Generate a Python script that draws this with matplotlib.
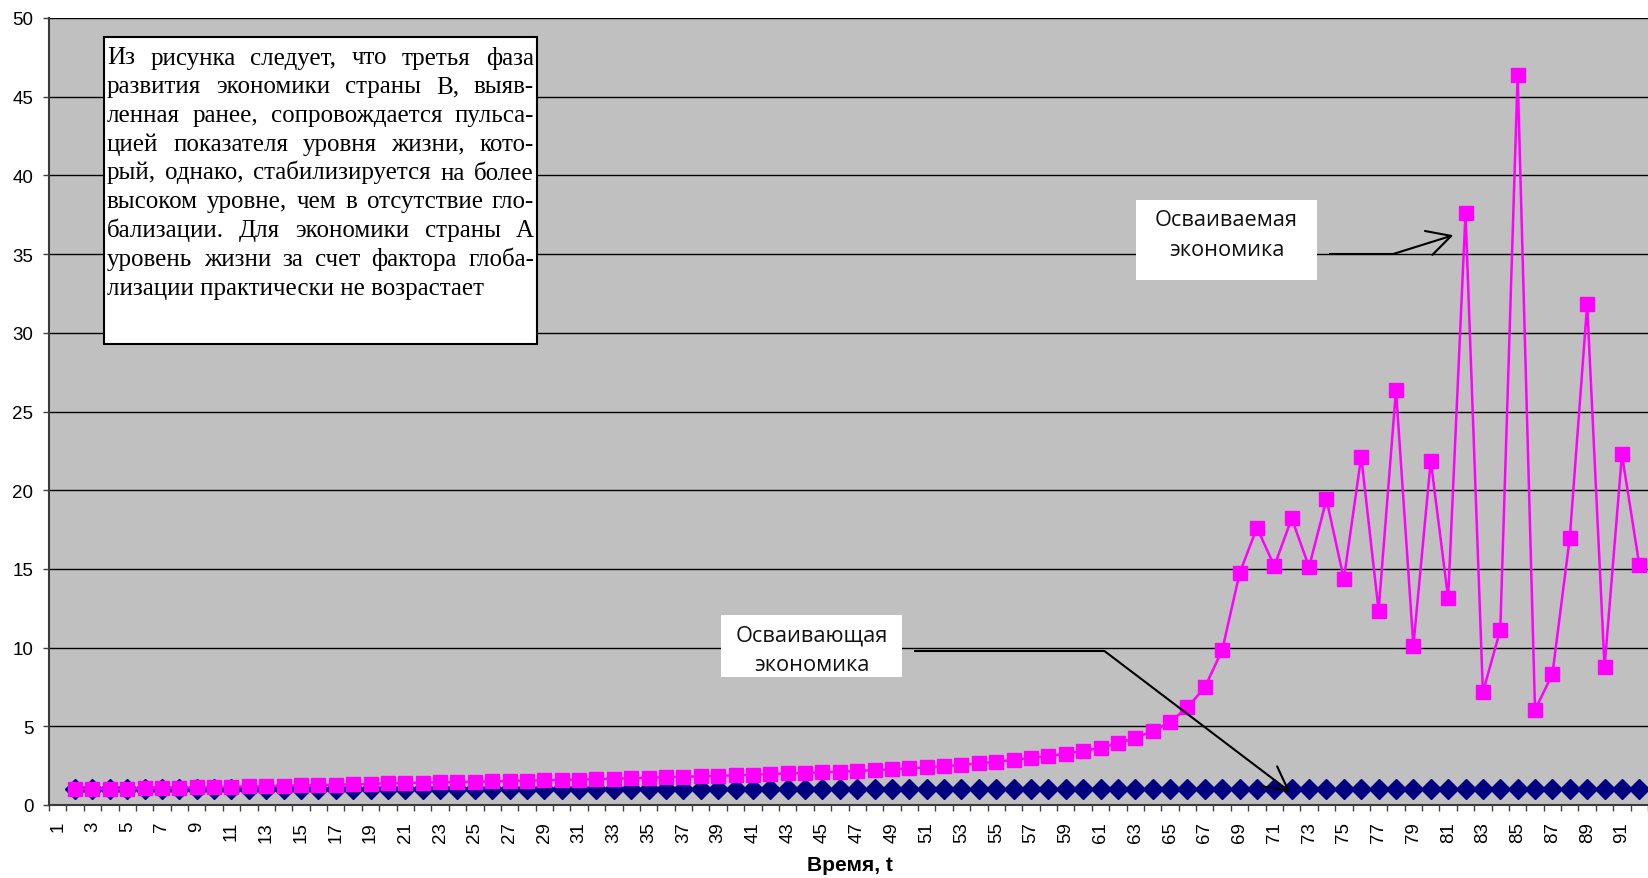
import numpy as np
import matplotlib
matplotlib.use("Agg")
import matplotlib.pyplot as plt
from matplotlib.patches import Rectangle

# ---- data -------------------------------------------------------------
categories = list(range(1, 93))
tick_categories = categories[::2]
tick_labels = [str(c) for c in tick_categories]

# Осваиваемая экономика (country B), no value at t = 1
absorbed_economy = [
    None,
    1.04, 1.04, 1.04, 1.04, 1.06, 1.08, 1.10, 1.12, 1.14, 1.16,
    1.18, 1.21, 1.23, 1.25, 1.27, 1.29, 1.31, 1.34, 1.37, 1.40,
    1.42, 1.44, 1.46, 1.48, 1.50, 1.52, 1.55, 1.57, 1.59, 1.61,
    1.65, 1.67, 1.70, 1.74, 1.76, 1.80, 1.82, 1.86, 1.88, 1.93,
    1.97, 2.01, 2.03, 2.08, 2.12, 2.16, 2.22, 2.27, 2.33, 2.39,
    2.48, 2.54, 2.65, 2.75, 2.86, 2.99, 3.11, 3.26, 3.43, 3.64,
    3.92, 4.26, 4.70, 5.27, 6.20, 7.48, 9.83, 14.72, 17.62, 15.18,
    18.21, 15.12, 19.42, 14.36, 22.13, 12.35, 26.37, 10.12, 21.88, 13.15,
    37.61, 7.16, 11.12, 46.40, 6.04, 8.32, 16.98, 31.81, 8.75, 22.28,
    15.25,
]

# Осваивающая экономика (country A), no value at t = 1
absorbing_economy = [
    None,
    1.00, 1.00, 1.00, 1.00, 1.00, 1.00, 1.00, 1.00, 1.00, 1.00,
    1.00, 1.00, 1.00, 1.00, 1.00, 1.00, 1.00, 1.00, 1.00, 1.00,
    1.00, 1.00, 1.00, 1.00, 1.00, 1.00, 1.00, 1.00, 1.00, 1.00,
    1.00, 1.00, 1.00, 1.00, 1.00, 1.00, 1.00, 1.00, 1.00, 1.00,
    1.00, 1.00, 1.00, 1.00, 1.00, 1.00, 1.00, 1.00, 1.00, 1.00,
    1.00, 1.00, 1.00, 1.00, 1.00, 1.00, 1.00, 1.00, 1.00, 1.00,
    1.00, 1.00, 1.00, 1.00, 1.00, 1.00, 1.00, 1.00, 1.00, 1.00,
    1.00, 1.00, 1.00, 1.00, 1.00, 1.00, 1.00, 1.00, 1.00, 1.00,
    1.00, 1.00, 1.00, 1.00, 1.00, 1.00, 1.00, 1.00, 1.00, 1.00,
    1.00,
]

x_title = "Время, t"
note_lines = [
    "Из рисунка следует, что третья фаза",
    "развития экономики страны В, выяв-",
    "ленная ранее, сопровождается пульса-",
    "цией показателя уровня жизни, кото-",
    "рый, однако, стабилизируется на более",
    "высоком уровне, чем в отсутствие гло-",
    "бализации. Для экономики страны А",
    "уровень жизни за счет фактора глоба-",
    "лизации практически не возрастает",
]
label_absorbed = ["Осваиваемая", "экономика"]
label_absorbing = ["Осваивающая", "экономика"]

# ---- figure -----------------------------------------------------------
W, H = 1648, 879
fig = plt.figure(figsize=(W / 100, H / 100), dpi=100, facecolor="white")


def fx(px):
    return px / W


def fy(py):
    return 1 - py / H


step = 17.42  # pixels per category
left_px, bottom_px, top_px = 49, 806, 19
ax = fig.add_axes([fx(left_px), fy(bottom_px), (W - left_px) / W,
                   (bottom_px - top_px) / H])
ax.set_facecolor("#C0C0C0")
ax.set_xlim(0.5, 0.5 + (W - left_px) / step)
ax.set_ylim(0, 50)

x = np.array(categories, dtype=float)
ya = np.array(absorbing_economy, dtype=float)
yb = np.array(absorbed_economy, dtype=float)

ax.plot(x, ya, color="#000080", lw=1.5, marker="D", ms=10.5,
        markeredgecolor="#000080", zorder=3)
ax.plot(x, yb, color="#FF00FF", lw=1.8, marker="s", ms=10,
        markeredgecolor="#FF00FF", zorder=4)

# axes styling
ax.set_axisbelow(True)
ax.yaxis.grid(True, color="black", lw=1.0)
ax.set_yticks(range(0, 51, 5))
ax.tick_params(axis="y", length=4.3, width=1, color="#404040", pad=7.0,
               labelsize=13.5)
for lab in ax.get_yticklabels():
    lab.set_family("Liberation Sans")

ax.set_xticks(tick_categories)
ax.set_xticklabels(tick_labels, rotation=90, fontsize=13.5,
                   family="Liberation Sans")
ax.set_xticks(np.arange(0.5, 93, 1.0), minor=True)
ax.tick_params(axis="x", which="major", length=0, pad=11.5)
ax.tick_params(axis="x", which="minor", length=4.3, width=1, color="#404040")

for side in ("top", "right"):
    ax.spines[side].set_visible(False)
for side in ("left", "bottom"):
    ax.spines[side].set_color("#3a3a3a")
    ax.spines[side].set_linewidth(1.5)

fig.text(fx(850), fy(866), x_title, ha="center", va="center",
         fontsize=15, fontweight="bold", family="Liberation Sans")

# ---- annotation arrows (data coordinates) -----------------------------
arrow_style = "->,head_length=0.85,head_width=0.45"


def bent_arrow(start, bend, tip):
    ax.plot([start[0], bend[0]], [start[1], bend[1]], color="black",
            lw=1.5, zorder=6, clip_on=False, solid_capstyle="butt")
    ax.annotate("", xy=tip, xytext=bend,
                arrowprops=dict(arrowstyle=arrow_style, color="black", lw=1.5,
                                shrinkA=0, shrinkB=0, mutation_scale=20),
                zorder=6, annotation_clip=False)


bent_arrow((74.15, 35.0), (77.82, 35.0), (81.3, 36.2))
bent_arrow((50.27, 9.78), (61.23, 9.78), (71.91, 0.83))

# ---- label boxes ------------------------------------------------------
def label_box(x0, y0, x1, y1, lines, centers_y):
    fig.patches.append(Rectangle((fx(x0), fy(y1)), (x1 - x0) / W,
                                 (y1 - y0) / H, transform=fig.transFigure,
                                 facecolor="white", edgecolor="none",
                                 zorder=5))
    for line, cy in zip(lines, centers_y):
        fig.text(fx((x0 + x1) / 2), fy(cy), line, ha="center", va="center",
                 fontsize=15.7, family="Open Sans", color="#111111", zorder=7)


label_box(1136, 201, 1317, 281, label_absorbed, [221, 251])
label_box(721, 616, 902, 678, label_absorbing, [636, 666])

# ---- justified note ---------------------------------------------------
box_l, box_t, box_r, box_b = 104, 38, 537, 345
fig.patches.append(Rectangle((fx(box_l), fy(box_b)), (box_r - box_l) / W,
                             (box_b - box_t) / H, transform=fig.transFigure,
                             facecolor="white", edgecolor="black", lw=1.5,
                             zorder=5))

renderer = fig.canvas.get_renderer()
text_l, text_r = 107, 534
baseline0, line_step = 64.5, 28.75
note_kw = dict(fontsize=18.0, family="Liberation Serif", va="baseline",
               ha="left", zorder=7)
for i, line in enumerate(note_lines):
    yb_px = baseline0 + i * line_step
    if i == len(note_lines) - 1:
        fig.text(fx(text_l), fy(yb_px), line, **note_kw)
        continue
    words = line.split()
    items = [fig.text(0, 0, w, **note_kw) for w in words]
    widths = [t.get_window_extent(renderer).width for t in items]
    gap = (text_r - text_l - sum(widths)) / (len(words) - 1)
    xpos = text_l
    for t, w in zip(items, widths):
        t.set_position((fx(xpos), fy(yb_px)))
        xpos += w + gap

fig.savefig("out.png", dpi=100)
